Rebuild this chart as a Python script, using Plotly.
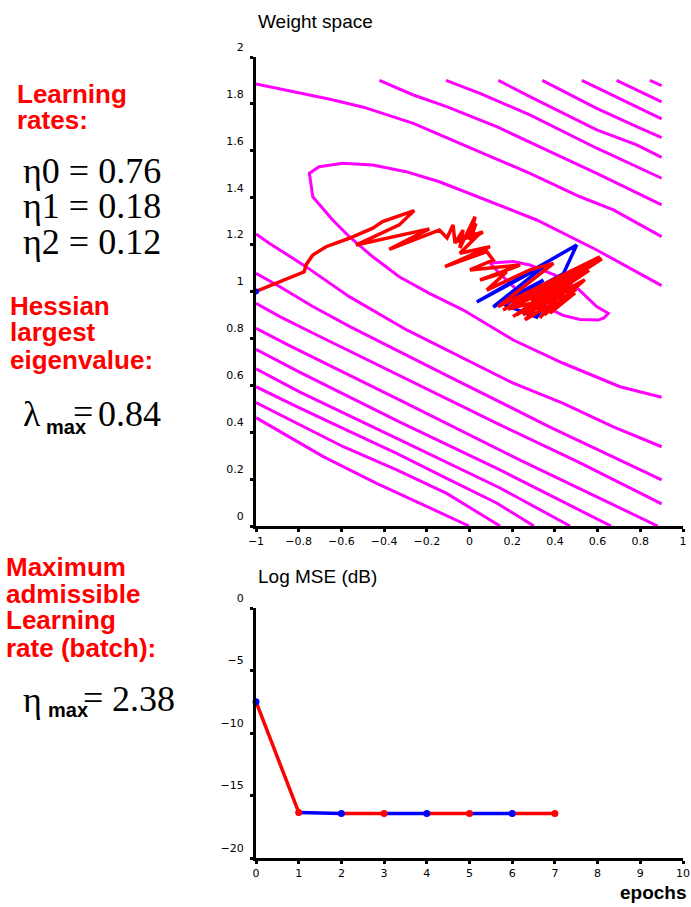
import plotly.graph_objects as go

# ---------------- data ----------------
# weight-space contour lines, x = w0, y = w1
c1_x = [0.096, 0.204, 0.283, 0.400, 0.504, 0.597, 0.650, 0.630, 0.602, 0.518, 0.438, 0.330, 0.213, 0.143, 0.096]
c1_y = [1.122, 1.128, 1.113, 1.070, 1.015, 0.935, 0.907, 0.887, 0.878, 0.881, 0.898, 0.947, 1.015, 1.075, 1.122]
c2_x = [0.90, 0.596, 0.315, 0.077, -0.141, -0.297, -0.453, -0.594, -0.704, -0.750, -0.734, -0.641, -0.563,
        -0.453, -0.329, -0.188, -0.029, 0.127, 0.205, 0.439, 0.705, 0.90]
c2_y = [1.025, 1.177, 1.305, 1.390, 1.468, 1.511, 1.539, 1.547, 1.532, 1.504, 1.404, 1.305, 1.234,
        1.148, 1.063, 0.992, 0.921, 0.836, 0.793, 0.694, 0.594, 0.549]
c3u_x = [-1.0, -0.653, -0.497, -0.263, -0.029, 0.283, 0.518, 0.674, 0.90]
c3u_y = [1.885, 1.820, 1.786, 1.717, 1.625, 1.504, 1.404, 1.348, 1.234]
c3l_x = [-1.0, -0.938, -0.766, -0.563, -0.294, 0.002, 0.205, 0.439, 0.674, 0.90]
c3l_y = [1.245, 1.206, 1.106, 0.978, 0.836, 0.701, 0.609, 0.523, 0.423, 0.338]
c4u_x = [-0.422, -0.263, -0.107, 0.127, 0.362, 0.596, 0.90]
c4u_y = [1.90, 1.838, 1.788, 1.703, 1.603, 1.504, 1.369]
c4l_x = [-1.0, -0.888, -0.732, -0.560, -0.091, 0.377, 0.90]
c4l_y = [1.078, 1.020, 0.935, 0.850, 0.635, 0.422, 0.197]
c5u_x = [-0.110, 0.049, 0.283, 0.596, 0.90]
c5u_y = [1.90, 1.845, 1.753, 1.611, 1.483]
c5l_x = [-1.0, -0.888, -0.732, -0.326, 0.143, 0.518, 0.90]
c5l_y = [0.950, 0.893, 0.822, 0.640, 0.431, 0.269, 0.094]
c6u_x = [0.135, 0.283, 0.596, 0.783, 0.90]
c6u_y = [1.90, 1.831, 1.689, 1.625, 1.572]
c6l_x = [-1.0, -0.841, -0.326, 0.237, 0.881]
c6l_y = [0.843, 0.768, 0.537, 0.281, 0.0]
c7u_x = [0.341, 0.596, 0.783, 0.90]
c7u_y = [1.90, 1.781, 1.703, 1.656]
c7l_x = [-1.0, -0.794, -0.326, 0.143, 0.663]
c7l_y = [0.753, 0.655, 0.443, 0.239, 0.0]
c8u_x = [0.526, 0.752, 0.90]
c8u_y = [1.90, 1.803, 1.736]
c8l_x = [-1.0, -0.794, -0.326, 0.143, 0.471]
c8l_y = [0.670, 0.571, 0.367, 0.162, 0.0]
c9u_x = [0.689, 0.90]
c9u_y = [1.90, 1.809]
c9l_x = [-1.0, -0.809, -0.575, -0.341, -0.107, 0.127, 0.302]
c9l_y = [0.594, 0.509, 0.409, 0.310, 0.203, 0.098, 0.0]
c10u_x = [0.845, 0.90]
c10u_y = [1.90, 1.878]
c10l_x = [-1.0, -0.809, -0.591, -0.341, -0.107, 0.143]
c10l_y = [0.526, 0.438, 0.338, 0.239, 0.139, 0.0]
c11l_x = [-1.0, -0.872, -0.685, -0.435, -0.185, -0.002]
c11l_y = [0.462, 0.395, 0.296, 0.182, 0.075, 0.0]

# online-learning trajectory (red) and batch trajectory (blue)
red_x = [-1.0, -0.774, -0.766, -0.734, -0.672, -0.563, -0.453, -0.407, -0.259, -0.329, -0.532, -0.188, -0.376,
         -0.141, -0.105, -0.077, -0.068, -0.030, -0.045, 0.026, 0.002, 0.063, -0.020, 0.030, 0.010,
         -0.068, 0.049, -0.045, 0.096,
         -0.115, 0.081, 0.111, 0.002, 0.237, 0.049, 0.174, 0.081, 0.283, 0.393,
         0.134, 0.611, 0.157, 0.596, 0.204, 0.549, 0.315, 0.518, 0.260, 0.471, 0.237, 0.494, 0.377, 0.424,
         0.330, 0.400, 0.283, 0.447, 0.180, 0.560, 0.250, 0.580, 0.300, 0.540, 0.350, 0.500, 0.290, 0.430,
         0.360, 0.200, 0.620, 0.220, 0.450, 0.260, 0.410]
red_y = [1.0, 1.084, 1.113, 1.156, 1.191, 1.227, 1.270, 1.298, 1.345, 1.284, 1.198, 1.267, 1.180,
         1.262, 1.228, 1.284, 1.207, 1.262, 1.186, 1.319, 1.220, 1.254, 1.232, 1.290, 1.236,
         1.212, 1.248, 1.163, 1.191,
         1.106, 1.170, 1.134, 1.092, 1.113, 1.049, 1.084, 1.006, 1.092, 1.120,
         0.935, 1.148, 0.921, 1.134, 0.893, 1.106, 0.921, 1.070, 0.964, 1.028, 0.913, 0.994, 0.908, 1.006,
         0.887, 0.964, 0.942, 0.985, 0.925, 1.090, 0.900, 1.120, 0.930, 1.050, 0.900, 1.010, 0.960, 1.040,
         0.920, 0.950, 1.140, 0.900, 1.060, 0.880, 0.960]
blue_x = [0.439, 0.502, 0.034, 0.362, 0.111, 0.346, 0.166, 0.315, 0.439, 0.213, 0.377]
blue_y = [1.075, 1.198, 0.955, 1.117, 0.934, 1.049, 0.942, 0.891, 1.075, 0.964, 1.028]
start_x = [-1.0]
start_y = [1.0]

# learning curve
epochs = [0, 1, 2, 3, 4, 5, 6, 7]
mse_db = [-7.5, -16.35, -16.45, -16.45, -16.45, -16.45, -16.45, -16.45]
point_colors = ["blue", "red", "blue", "red", "blue", "red", "blue", "red"]

# ticks
w_xticks = [-1, -0.8, -0.6, -0.4, -0.2, 0, 0.2, 0.4, 0.6, 0.8, 1]
w_xlabels = ["\u22121", "\u22120.8", "\u22120.6", "\u22120.4", "\u22120.2", "0", "0.2", "0.4", "0.6", "0.8", "1"]
w_yticks = [0, 0.2, 0.4, 0.6, 0.8, 1, 1.2, 1.4, 1.6, 1.8, 2]
w_ylabels = ["0", "0.2", "0.4", "0.6", "0.8", "1", "1.2", "1.4", "1.6", "1.8", "2"]
e_xticks = [0, 1, 2, 3, 4, 5, 6, 7, 8, 9, 10]
e_xlabels = [str(v) for v in e_xticks]
e_yticks = [0, -5, -10, -15, -20]
e_ylabels = ["0", "\u22125", "\u221210", "\u221215", "\u221220"]

# ---------------- figure ----------------
W, H = 691, 907
MAG, RED, BLUE = "#FF00FF", "#FF0000", "#0000FF"

def px(x):
    return x / W

def py(y):
    return 1 - y / H

fig = go.Figure()

contours = [(c1_x, c1_y), (c2_x, c2_y), (c3u_x, c3u_y), (c3l_x, c3l_y), (c4u_x, c4u_y), (c4l_x, c4l_y),
            (c5u_x, c5u_y), (c5l_x, c5l_y), (c6u_x, c6u_y), (c6l_x, c6l_y), (c7u_x, c7u_y), (c7l_x, c7l_y),
            (c8u_x, c8u_y), (c8l_x, c8l_y), (c9u_x, c9u_y), (c9l_x, c9l_y), (c10u_x, c10u_y),
            (c10l_x, c10l_y), (c11l_x, c11l_y)]
for cx, cy in contours:
    fig.add_trace(go.Scatter(x=cx, y=cy, mode="lines", line=dict(color=MAG, width=3),
                             xaxis="x", yaxis="y", showlegend=False, hoverinfo="skip", cliponaxis=False))

fig.add_trace(go.Scatter(x=blue_x, y=blue_y, mode="lines", line=dict(color=BLUE, width=3.5),
                         xaxis="x", yaxis="y", showlegend=False))
fig.add_trace(go.Scatter(x=red_x, y=red_y, mode="lines", line=dict(color=RED, width=3.5),
                         xaxis="x", yaxis="y", showlegend=False))
fig.add_trace(go.Scatter(x=start_x, y=start_y, mode="markers", marker=dict(color=BLUE, size=6),
                         xaxis="x", yaxis="y", showlegend=False, cliponaxis=False))

# learning-curve segments, each coloured like its end point
for col in ("red", "blue"):
    xs, ys = [], []
    for i in range(1, len(epochs)):
        if point_colors[i] == col:
            xs += [epochs[i - 1], epochs[i], None]
            ys += [mse_db[i - 1], mse_db[i], None]
    fig.add_trace(go.Scatter(x=xs, y=ys, mode="lines",
                             line=dict(color=RED if col == "red" else BLUE, width=3.5),
                             xaxis="x2", yaxis="y2", showlegend=False, cliponaxis=False))
fig.add_trace(go.Scatter(x=epochs, y=mse_db, mode="markers",
                         marker=dict(color=[RED if c == "red" else BLUE for c in point_colors], size=7),
                         xaxis="x2", yaxis="y2", showlegend=False, cliponaxis=False))

tickfont = dict(family="DejaVu Sans", size=11, color="black")
axis_common = dict(showgrid=False, zeroline=False, showline=True, linecolor="black", linewidth=3,
                   ticks="outside", ticklen=3, tickwidth=3, tickcolor="black", tickfont=tickfont,
                   tickmode="array", fixedrange=True, automargin=False)

xd = [256 / W, 683 / W]
fig.update_layout(
    template="none", autosize=False,
    width=W, height=H, margin=dict(l=0, r=0, t=0, b=0, pad=0, autoexpand=False),
    paper_bgcolor="white", plot_bgcolor="white", showlegend=False,
    xaxis=dict(domain=xd, range=[-1, 1], anchor="y", tickvals=w_xticks, ticktext=w_xlabels, **axis_common),
    yaxis=dict(domain=[py(526), py(57)], range=[0, 2], anchor="x", tickvals=w_yticks, ticktext=w_ylabels,
               ticklabelshift=-10, ticklabelstandoff=4, **axis_common),
    xaxis2=dict(domain=xd, range=[0, 10], anchor="y2", tickvals=e_xticks, ticktext=e_xlabels, **axis_common),
    yaxis2=dict(domain=[py(858), py(608)], range=[-20, 0], anchor="x2", tickvals=e_yticks,
                ticktext=e_ylabels, ticklabelshift=-10, ticklabelstandoff=4, **axis_common),
)

ann = []

def text(x, y, s, size, family="Liberation Sans", color="black", bold=False, xanchor="left", yanchor="middle"):
    ann.append(dict(x=px(x), y=py(y), xref="paper", yref="paper", text=("<b>%s</b>" % s) if bold else s,
                    showarrow=False, xanchor=xanchor, yanchor=yanchor,
                    font=dict(family=family, size=size, color=color)))

# titles
text(256, 22, "Weight space", 19)
text(256, 576, "Log MSE (dB)", 19)
text(689, 892, "epochs", 19, bold=True, xanchor="right")

# left-hand text
red_lines = [("Learning", 15, 94), ("rates:", 15, 120),
             ("Hessian", 8, 306), ("largest", 8, 332), ("eigenvalue:", 8, 360),
             ("Maximum", 4, 567), ("admissible", 4, 594), ("Learning", 4, 620), ("rate (batch):", 4, 648)]
for s, x, y in red_lines:
    text(x, y, s, 26, color=RED, bold=True)

SERIF = "Liberation Serif"
text(21, 171, "\u03b70 = 0.76", 36, family=SERIF)
text(21, 206, "\u03b71 = 0.18", 36, family=SERIF)
text(21, 242, "\u03b72 = 0.12", 36, family=SERIF)

text(21, 414, "\u03bb", 36, family=SERIF)
text(44, 427, "max", 20, bold=True)
text(71, 412, "=", 36, family=SERIF)
text(96, 414, "0.84", 36, family=SERIF)

text(21, 700, "\u03b7", 36, family=SERIF)
text(46, 710, "max", 20, bold=True)
text(81, 698, "=", 36, family=SERIF)
text(110, 699, "2.38", 36, family=SERIF)

fig.update_layout(annotations=ann)
fig.write_html("out.html", config={"displayModeBar": False, "responsive": False},
               post_script="document.body.style.margin='0';document.body.style.overflow='hidden';")
